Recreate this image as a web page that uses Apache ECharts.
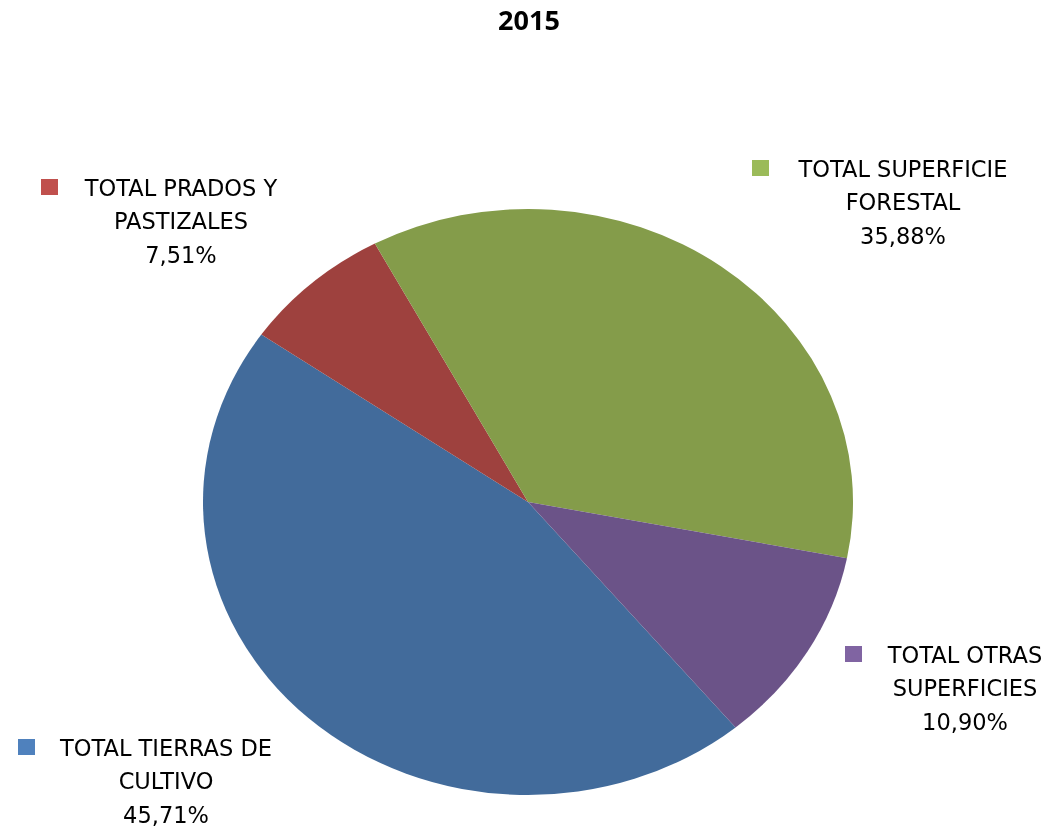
<!DOCTYPE html>
<html>
<head>
<meta charset="utf-8">
<title>2015</title>
<script src="https://cdn.jsdelivr.net/npm/echarts@6/dist/echarts.min.js"></script>
<style>
body{margin:0;background:#fff;}
#wrap{position:relative;width:1061px;height:835px;overflow:hidden;}
#pie,#txt{position:absolute;left:0;top:0;width:1061px;height:835px;}
/* la tarta del original es un poco achatada */
#pie{transform-origin:528px 502px;transform:scaleY(0.9015);}
</style>
</head>
<body>
<div id="wrap">
	<div id="pie"></div>
	<div id="txt"></div>
</div>
<script>
// datos
var titulo = '2015';
var categorias = ['TOTAL TIERRAS DE\nCULTIVO','TOTAL PRADOS Y\nPASTIZALES','TOTAL SUPERFICIE\nFORESTAL','TOTAL OTRAS\nSUPERFICIES'];
var valores = [45.71, 7.51, 35.88, 10.90];
var colores = ['#426b9b','#9e413e','#849c4a','#6b5388'];
var coloresLeyenda = ['#4f81bd','#c0504d','#9bbb59','#8064a2'];

// posicion de cada etiqueta: centro del texto, centro de la 1a linea, borde izq. del cuadro
var etiquetas = [
	{x:166, y:750, mx:18},
	{x:181, y:190, mx:41},
	{x:903, y:171, mx:752},
	{x:965, y:657, mx:845}
];

var pieChart = echarts.init(document.getElementById('pie'), null, {renderer:'svg'});
var datosPie = [];
for(var i=0;i<valores.length;i++){
	datosPie.push({value:valores[i], name:categorias[i], itemStyle:{color:colores[i]}});
}
pieChart.setOption({
	animation:false,
	series:[{
		type:'pie',
		silent:true,
		center:[528,502],
		radius:325,
		startAngle:-50.3,
		clockwise:true,
		label:{show:false},
		labelLine:{show:false},
		itemStyle:{borderWidth:0},
		data:datosPie
	}]
});

var txtChart = echarts.init(document.getElementById('txt'));
var elementos = [];
var LH = 33.5;
for(var i=0;i<categorias.length;i++){
	var p = etiquetas[i];
	var pct = valores[i].toFixed(2).replace('.', ',') + '%';
	elementos.push({
		type:'rect',
		shape:{x:p.mx, y:p.y-11, width:17, height:16},
		style:{fill:coloresLeyenda[i]}
	});
	elementos.push({
		type:'text',
		style:{
			text:categorias[i] + '\n' + pct,
			x:p.x,
			y:p.y - LH/2,
			align:'center',
			verticalAlign:'top',
			lineHeight:LH,
			fill:'#000',
			font:'22.5px "DejaVu Sans", sans-serif'
		}
	});
}
// titulo
elementos.push({
	type:'text',
	style:{
		text:titulo,
		x:529,
		y:22,
		align:'center',
		verticalAlign:'middle',
		fill:'#000',
		font:'bold 27px "Open Sans", sans-serif'
	}
});
txtChart.setOption({
	animation:false,
	graphic:elementos
});
</script>
</body>
</html>
